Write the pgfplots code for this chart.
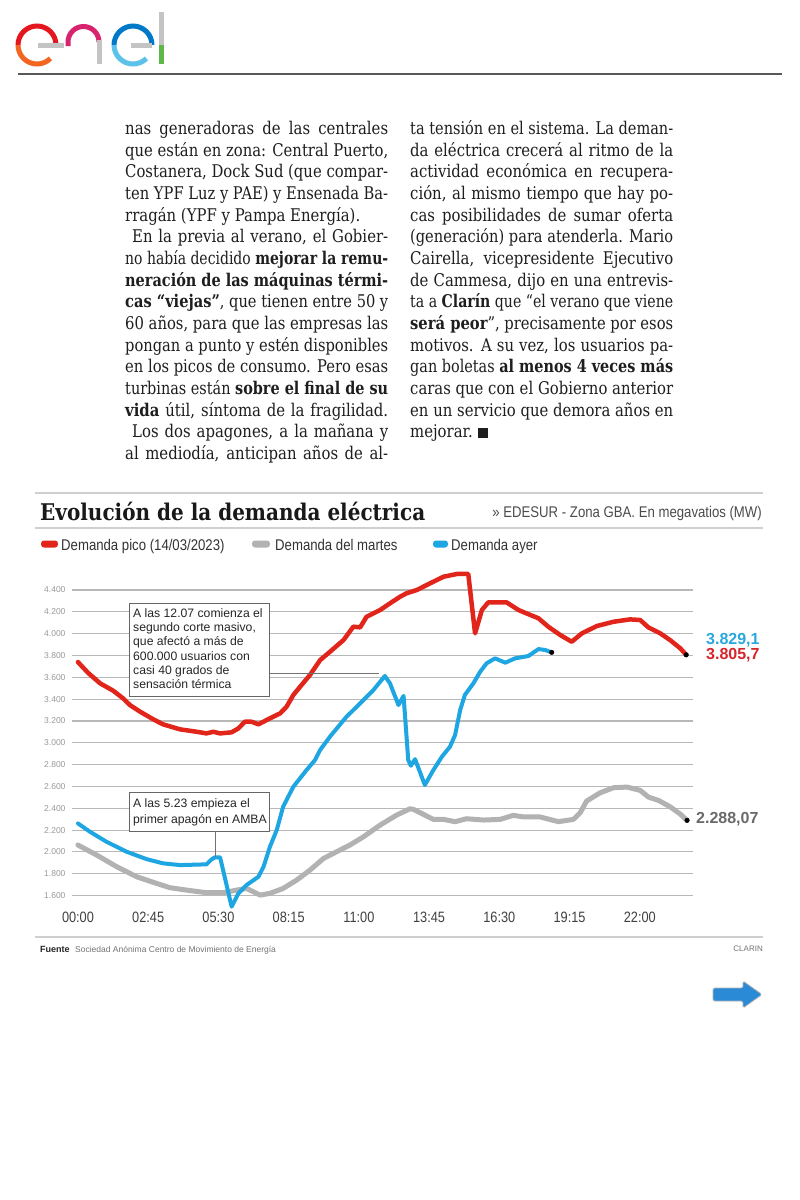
\documentclass[border=0pt]{standalone}
\usepackage{fontspec}
\usepackage{graphicx}
\usepackage{pgfplots}
\pgfplotsset{compat=1.18}
\setmainfont{DejaVu Serif}[FakeStretch=0.85]
\newfontfamily\titlefont{DejaVu Serif}[FakeStretch=0.85]
\newfontfamily\sans{Liberation Sans}
\newfontfamily\sanscond{Liberation Sans}[FakeStretch=0.85]

\definecolor{cred}{HTML}{E1251B}
\definecolor{cblue}{HTML}{1DA6E2}
\definecolor{cgray}{HTML}{B2B2B2}
\definecolor{gridc}{HTML}{B8B8B8}
\definecolor{rulec}{HTML}{CFCFCF}
\definecolor{txt}{HTML}{1E1E1E}
\definecolor{enelred}{HTML}{E4171E}
\definecolor{enelorange}{HTML}{F26522}
\definecolor{enelpink}{HTML}{D8246E}
\definecolor{enelblue}{HTML}{0078C8}
\definecolor{enellblue}{HTML}{5CC2EA}
\definecolor{enelgreen}{HTML}{5DB848}
\definecolor{enelgray}{HTML}{C4C4C4}
\definecolor{arrowblue}{HTML}{2B8AD6}
\definecolor{labred}{HTML}{D7262B}
\definecolor{labblue}{HTML}{2AA7DF}
\definecolor{labgray}{HTML}{6A6A6A}

\newlength\colw
\setlength\colw{263pt}
\newsavebox\linebox
\newcommand\Lj[1]{\sbox\linebox{#1}\ifdim\wd\linebox>\colw\hbox to\colw{\resizebox{\colw}{\height}{\usebox\linebox}}\else\hbox to\colw{#1}\fi}
\newcommand\Ll[1]{\hbox{#1}}

\begin{document}
\begin{tikzpicture}[x=1pt,y=1pt]
\useasboundingbox (0,0) rectangle (800,-1200);
\fill[white] (0,0) rectangle (800,-1200);

% ---- enel logo
\begin{scope}[line width=5pt]
\draw[enelred] (56,-45) arc (0:180:19);
\draw[enelorange] (18,-45) arc (180:315:19);
\draw[enelgray] (38,-45) -- (64,-45);
\draw[enelpink] (68,-46) -- (68,-42) arc (180:0:15.5);
\draw[enelgray] (99,-40) -- (99,-64);
\draw[enelblue] (152,-45) arc (0:180:19);
\draw[enellblue] (114,-45) arc (180:315:19);
\draw[enelgray] (131,-45) -- (152,-45);
\draw[enelgray] (161,-12) -- (161,-45);
\draw[enelgreen] (161,-45) -- (161,-64);
\end{scope}
\draw[line width=2pt, black!65] (18,-74) -- (782,-74);

% ---- article columns
\node[anchor=base west, inner sep=0pt, font=\fontsize{17.5}{21.67}\selectfont, text=txt] at (125,-134.5) {\vtop{\hsize=\colw
\Lj{nas generadoras de las centrales}
\Lj{que están en zona: Central Puerto,}
\Lj{Costanera, Dock Sud (que compar-}
\Lj{ten YPF Luz y PAE) y Ensenada Ba-}
\Ll{rragán (YPF y Pampa Energía).}
\Lj{\kern7pt En la previa al verano, el Gobier-}
\Lj{no había decidido {\bfseries mejorar la remu-}}
\Lj{{\bfseries neración de las máquinas térmi-}}
\Lj{{\bfseries cas “viejas”}, que tienen entre 50 y}
\Lj{60 años, para que las empresas las}
\Lj{pongan a punto y estén disponibles}
\Lj{en los picos de consumo. Pero esas}
\Lj{turbinas están {\bfseries sobre el final de su}}
\Lj{{\bfseries vida} útil, síntoma de la fragilidad.}
\Lj{\kern7pt Los dos apagones, a la mañana y}
\Lj{al mediodía, anticipan años de al-}
}};
\node[anchor=base west, inner sep=0pt, font=\fontsize{17.5}{21.67}\selectfont, text=txt] at (410,-134.5) {\vtop{\hsize=\colw
\Lj{ta tensión en el sistema. La deman-}
\Lj{da eléctrica crecerá al ritmo de la}
\Lj{actividad económica en recupera-}
\Lj{ción, al mismo tiempo que hay po-}
\Lj{cas posibilidades de sumar oferta}
\Lj{(generación) para atenderla. Mario}
\Lj{Cairella, vicepresidente Ejecutivo}
\Lj{de Cammesa, dijo en una entrevis-}
\Lj{ta a {\bfseries Clarín} que “el verano que viene}
\Lj{{\bfseries será peor}”, precisamente por esos}
\Lj{motivos. A su vez, los usuarios pa-}
\Lj{gan boletas {\bfseries al menos 4 veces más}}
\Lj{caras que con el Gobierno anterior}
\Lj{en un servicio que demora años en}
\Ll{mejorar.\ \rule{10pt}{10pt}}
}};

% ---- chart header
\draw[rulec, line width=1.5pt] (35,-493) -- (763,-493);
\node[anchor=base west, inner sep=0pt, text=black!90] at (40,-520) {\resizebox{385pt}{\height}{\titlefont\bfseries\fontsize{23}{23}\selectfont Evolución de la demanda eléctrica}};
\node[anchor=base east, inner sep=0pt, text=black!70] at (762,-517) {\sanscond\fontsize{15.5}{16}\selectfont » EDESUR - Zona GBA. En megavatios (MW)};
\draw[rulec, line width=1.5pt] (35,-528) -- (763,-528);

\fill[cred, rounded corners=3pt] (41,-540.5) rectangle (58,-547.5);
\node[anchor=base west, inner sep=0pt, text=black!80] at (61,-550) {\sanscond\fontsize{15.5}{16}\selectfont Demanda pico (14/03/2023)};
\fill[cgray, rounded corners=3pt] (252,-540.5) rectangle (270,-547.5);
\node[anchor=base west, inner sep=0pt, text=black!80] at (275,-550) {\sanscond\fontsize{15.5}{16}\selectfont Demanda del martes};
\fill[cblue, rounded corners=3pt] (433,-540.5) rectangle (448,-547.5);
\node[anchor=base west, inner sep=0pt, text=black!80] at (451,-550) {\sanscond\fontsize{15.5}{16}\selectfont Demanda ayer};

% ---- chart
\begin{axis}[
  at={(72pt,-911.9pt)}, anchor=south west,
  scale only axis, width=621pt, height=343.7pt,
  xmin=-14, xmax=1445, ymin=1450, ymax=4600,
  axis line style={draw=none},
  major tick length=0pt,
  xtick={0,165,330,495,660,825,990,1155,1320},
  xticklabels={00:00,02:45,05:30,08:15,11:00,13:45,16:30,19:15,22:00},
  ytick={1600,1800,...,4400},
  yticklabels={1.600,1.800,2.000,2.200,2.400,2.600,2.800,3.000,3.200,3.400,3.600,3.800,4.000,4.200,4.400},
  ymajorgrids, grid style={gridc, line width=1.1pt},
  xticklabel style={font=\sanscond\fontsize{15}{15}\selectfont, text=black!75, anchor=base, yshift=-11pt},
  yticklabel style={font=\sans\fontsize{8.5}{9}\selectfont, text=black!40, anchor=east, xshift=-3pt},
  clip=false,
  every axis plot/.append style={line join=round, line cap=round},
]
\addplot[cgray, line width=5pt] coordinates {
(0,2063) (44,1971) (91,1864) (138,1772) (185,1711) (216,1672) (255,1650) (302,1626)
(341,1626) (373,1650) (396,1665) (412,1635) (428,1604) (451,1620) (482,1665) (514,1742)
(545,1833) (577,1940) (608,2002) (639,2063) (671,2139) (710,2246) (749,2338) (780,2395)
(788,2390) (804,2359) (835,2298) (859,2298) (886,2277) (913,2304) (953,2292) (992,2298)
(1023,2335) (1047,2320) (1086,2320) (1129,2277) (1164,2298) (1180,2359) (1195,2466)
(1227,2542) (1258,2588) (1290,2594) (1321,2564) (1340,2503) (1364,2472) (1391,2414)
(1415,2347) (1431,2289)
};
\addplot[cred, line width=4.5pt] coordinates {
(0,3740) (24,3640) (52,3545) (83,3477) (106,3407) (122,3346) (146,3285) (177,3215)
(200,3169) (240,3123) (279,3101) (302,3086) (318,3101) (334,3086) (361,3096) (377,3132)
(392,3193) (408,3193) (424,3169) (443,3208) (475,3270) (490,3330) (506,3438) (522,3514)
(545,3621) (569,3758) (592,3834) (624,3942) (647,4064) (663,4058) (678,4155) (710,4217)
(733,4278) (757,4339) (772,4370) (796,4400) (827,4461) (859,4522) (890,4547) (917,4547)
(933,4003) (949,4217) (964,4287) (1007,4287) (1035,4217) (1050,4192) (1082,4141)
(1105,4064) (1133,3988) (1160,3926) (1184,4003) (1219,4070) (1258,4109) (1297,4131)
(1321,4125) (1340,4058) (1368,4003) (1391,3942) (1415,3866) (1429,3806)
};
\addplot[cblue, line width=4pt] coordinates {
(0,2261) (28,2185) (67,2093) (114,2002) (161,1934) (200,1895) (240,1879) (302,1886)
(314,1932) (322,1950) (334,1950) (361,1498) (377,1620) (396,1696) (424,1772) (436,1864)
(451,2047) (467,2200) (482,2414) (506,2597) (537,2750) (557,2842) (569,2934) (592,3056)
(631,3239) (663,3361) (694,3483) (721,3612) (733,3545) (753,3346) (765,3430) (776,2842)
(782,2790) (792,2850) (815,2613) (835,2750) (855,2872) (874,2964) (886,3071) (898,3300)
(909,3438) (929,3545) (945,3651) (960,3728) (980,3774) (1004,3734) (1027,3774)
(1058,3795) (1082,3859) (1098,3850) (1113,3829)
};
\addplot[only marks, mark=*, mark size=2.3pt, black] coordinates {(1429,3806) (1113,3829) (1431,2289)};
\end{axis}

% ---- end labels
\node[anchor=base west, inner sep=0pt, text=labblue] at (706,-644) {\sans\bfseries\fontsize{16}{16}\selectfont 3.829,1};
\node[anchor=base west, inner sep=0pt, text=labred] at (706,-659.5) {\sans\bfseries\fontsize{16}{16}\selectfont 3.805,7};
\node[anchor=base west, inner sep=0pt, text=labgray] at (696,-823.5) {\sans\bfseries\fontsize{16}{16}\selectfont 2.288,07};

% ---- annotations
\draw[black!60, line width=0.9pt, fill=white] (129,-603) rectangle (269,-696);
\node[anchor=base west, inner sep=0pt, text=black!85, font=\sans\fontsize{12.2}{14.3}\selectfont] at (133,-617.3) {\vtop{\hbox{A las 12.07 comienza el}\hbox{segundo corte masivo,}\hbox{que afectó a más de}\hbox{600.000 usuarios con}\hbox{casi 40 grados de}\hbox{sensación térmica}}};
\draw[black!55, line width=1pt] (269,-673) -- (379,-673);

\draw[black!60, line width=0.9pt, fill=white] (129,-792) rectangle (269,-831);
\node[anchor=base west, inner sep=0pt, text=black!85, font=\sans\fontsize{12.2}{15.6}\selectfont] at (133,-807.7) {\vtop{\hbox{A las 5.23 empieza el}\hbox{primer apagón en AMBA}}};
\draw[black!55, line width=1pt] (215,-831) -- (215,-857);

% ---- footer
\draw[rulec, line width=1.5pt] (35,-937) -- (763,-937);
\node[anchor=base west, inner sep=0pt, text=black!85] at (40,-952) {\sans\bfseries\fontsize{9}{9}\selectfont Fuente};
\node[anchor=base west, inner sep=0pt, text=black!55] at (75,-952) {\sans\fontsize{8.5}{9}\selectfont Sociedad Anónima Centro de Movimiento de Energía};
\node[anchor=base east, inner sep=0pt, text=black!55] at (763,-951) {\sans\fontsize{8}{9}\selectfont CLARIN};

% ---- arrow
\draw[fill=arrowblue, draw=black!30, line width=0.8pt, rounded corners=1.5pt] (713,-988) -- (743,-988) -- (743,-981) -- (762,-994.5) -- (743,-1008) -- (743,-1001) -- (713,-1001) -- cycle;
\end{tikzpicture}
\end{document}
